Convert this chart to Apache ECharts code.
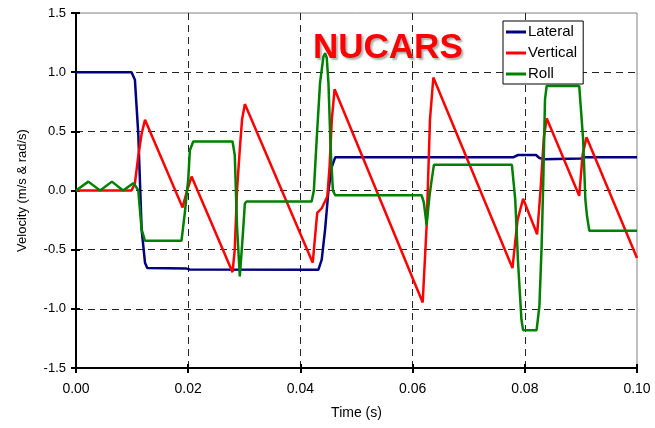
<!DOCTYPE html>
<html>
<head>
<meta charset="utf-8">
<script src="https://cdn.jsdelivr.net/npm/echarts@6/dist/echarts.min.js"></script>
<style>html,body{margin:0;padding:0;background:#fff}#c{width:655px;height:428px}</style>
</head>
<body>
<div id="c"></div>
<script>
var seriesNames = ['Lateral', 'Vertical', 'Roll'];
var xTicks = ['0.00', '0.02', '0.04', '0.06', '0.08', '0.10'];
var yTicks = ['-1.5', '-1.0', '-0.5', '0.0', '0.5', '1.0', '1.5'];
var titleText = 'NUCARS';

var lateral = [[0,1.0],[0.0099,1.0],[0.0105,0.935],[0.0111,0.48],[0.0117,-0.33],[0.0123,-0.61],[0.0127,-0.655],
  [0.0197,-0.66],[0.0203,-0.667],[0.0432,-0.67],[0.0438,-0.585],[0.0444,-0.33],[0.0450,0.0],[0.0456,0.2],[0.0462,0.28],
  [0.0779,0.28],[0.0788,0.30],[0.0820,0.30],[0.0826,0.275],[0.0834,0.265],[0.0900,0.27],[0.0908,0.282],[0.1,0.282]];

var vertical = [[0,0],[0.0099,0],[0.0105,0.06],[0.0111,0.29],[0.0117,0.48],[0.0123,0.597],[0.0190,-0.143],
  [0.0198,0.0],[0.0206,0.118],[0.0279,-0.69],[0.0283,-0.5],[0.0287,0.0],[0.0292,0.35],[0.0296,0.6],[0.0301,0.73],
  [0.0422,-0.61],[0.0430,-0.19],[0.0438,-0.15],[0.0448,-0.05],[0.0452,0.2],[0.0456,0.6],[0.0461,0.856],
  [0.0618,-0.946],[0.0625,-0.3],[0.0631,0.6],[0.0637,0.955],[0.0778,-0.655],[0.0787,-0.25],[0.0797,-0.07],
  [0.0822,-0.37],[0.0828,0.0],[0.0834,0.45],[0.0839,0.61],[0.0897,-0.045],[0.0903,0.3],[0.0910,0.45],[0.1,-0.57]];

var roll = [[0,0],[0.0022,0.075],[0.0043,0],[0.0064,0.075],[0.0084,0],[0.0102,0.062],[0.0106,0.04],[0.0111,0.0],
  [0.0117,-0.33],[0.0123,-0.425],[0.0188,-0.425],[0.0194,-0.19],[0.0200,0.09],[0.0203,0.34],[0.0209,0.414],
  [0.0279,0.414],[0.0283,0.3],[0.0287,-0.3],[0.0292,-0.726],[0.0297,-0.4],[0.0301,-0.11],[0.0304,-0.093],
  [0.0420,-0.093],[0.0424,0.0],[0.0429,0.43],[0.0435,0.91],[0.0441,1.13],[0.0444,1.16],[0.0447,1.12],[0.0450,0.91],
  [0.0454,0.34],[0.0458,0.0],[0.0462,-0.04],[0.0616,-0.04],[0.0620,-0.1],[0.0625,-0.29],[0.0630,-0.05],[0.0634,0.09],
  [0.0638,0.217],[0.0777,0.217],[0.0783,-0.08],[0.0788,-0.61],[0.0794,-1.09],[0.0797,-1.18],[0.0821,-1.18],
  [0.0826,-0.98],[0.0830,-0.47],[0.0833,0.09],[0.0836,0.77],[0.0839,0.884],[0.0897,0.884],[0.0904,0.43],
  [0.0908,-0.08],[0.0911,-0.22],[0.0915,-0.34],[0.1,-0.34]];

var colors = ['#000080', '#FF0000', '#008000'];
var FONT = 'Liberation Sans, Arial, sans-serif';

var chart = echarts.init(document.getElementById('c'), null, {renderer: 'canvas'});

function xAxisBase(extra) {
  return Object.assign({
    type: 'value', min: 0, max: 0.1, interval: 0.02, position: 'bottom'
  }, extra);
}
function yAxisBase(extra) {
  return Object.assign({
    type: 'value', min: -1.5, max: 1.5, interval: 0.5, position: 'left'
  }, extra);
}

var option = {
  animation: false,
  backgroundColor: '#ffffff',
  textStyle: {fontFamily: FONT},
  grid: {left: 76, right: 18, top: 13, bottom: 60, show: true, borderColor: '#808080', borderWidth: 1, backgroundColor: 'transparent'},
  legend: {
    data: seriesNames,
    orient: 'vertical',
    left: 503, top: 21,
    icon: 'rect', itemWidth: 20, itemHeight: 3, itemGap: 5,
    padding: [3, 6, 2, 3],
    backgroundColor: '#ffffff', borderColor: '#000000', borderWidth: 1, borderRadius: 0,
    textStyle: {fontFamily: FONT, fontSize: 15, color: '#000', lineHeight: 16, padding: [0, 0, 0, -3]},
    z: 10
  },
  graphic: [{
    type: 'text', left: 313, top: 31, z: 10,
    style: {text: titleText, fill: '#FF0000', font: 'bold 35px ' + FONT,
      textShadowColor: 'rgba(120,120,120,0.6)', textShadowOffsetX: 2, textShadowOffsetY: 2, textShadowBlur: 2}
  }],
  xAxis: [
    xAxisBase({
      name: 'Time (s)', nameLocation: 'middle', nameGap: 38,
      nameTextStyle: {fontFamily: FONT, fontSize: 14, color: '#000'},
      axisLine: {show: true, onZero: false, lineStyle: {color: '#000', width: 2}},
      axisTick: {show: true, inside: false, length: 5, lineStyle: {color: '#000', width: 2}},
      axisLabel: {margin: 14, fontFamily: FONT, fontSize: 14, color: '#000',
        formatter: function (v) { var i = Math.round(v / 0.02); return xTicks[i] !== undefined ? xTicks[i] : ''; }},
      splitLine: {show: true, showMinLine: false, showMaxLine: false, lineStyle: {color: '#222', width: 1, type: [7, 5]}}
    }),
    xAxisBase({
      axisLine: {show: false, onZero: false},
      axisTick: {show: true, inside: true, length: 4, lineStyle: {color: '#000', width: 2}},
      axisLabel: {show: false}, splitLine: {show: false}
    })
  ],
  yAxis: [
    yAxisBase({
      name: 'Velocity (m/s & rad/s)', nameLocation: 'middle', nameGap: 47, nameRotate: 90,
      nameTextStyle: {fontFamily: FONT, fontSize: 13, color: '#000'},
      axisLine: {show: true, onZero: false, lineStyle: {color: '#000', width: 2}},
      axisTick: {show: true, inside: false, length: 5, lineStyle: {color: '#000', width: 2}},
      axisLabel: {margin: 10, fontFamily: FONT, fontSize: 13, color: '#000',
        formatter: function (v) { var i = Math.round((v + 1.5) / 0.5); return yTicks[i] !== undefined ? yTicks[i] : ''; }},
      splitLine: {show: true, showMinLine: false, showMaxLine: false, lineStyle: {color: '#222', width: 1, type: [7, 5]}}
    }),
    yAxisBase({
      axisLine: {show: false, onZero: false},
      axisTick: {show: true, inside: true, length: 4, lineStyle: {color: '#000', width: 2}},
      axisLabel: {show: false}, splitLine: {show: false}
    })
  ],
  series: [
    {name: seriesNames[0], type: 'line', data: lateral, showSymbol: false, symbol: 'none', color: colors[0], lineStyle: {width: 2.5, color: colors[0]}, z: 3},
    {name: seriesNames[1], type: 'line', data: vertical, showSymbol: false, symbol: 'none', color: colors[1], lineStyle: {width: 2.5, color: colors[1]}, z: 4},
    {name: seriesNames[2], type: 'line', data: roll, showSymbol: false, symbol: 'none', color: colors[2], lineStyle: {width: 2.5, color: colors[2]}, z: 5}
  ]
};
chart.setOption(option);
</script>
</body>
</html>
